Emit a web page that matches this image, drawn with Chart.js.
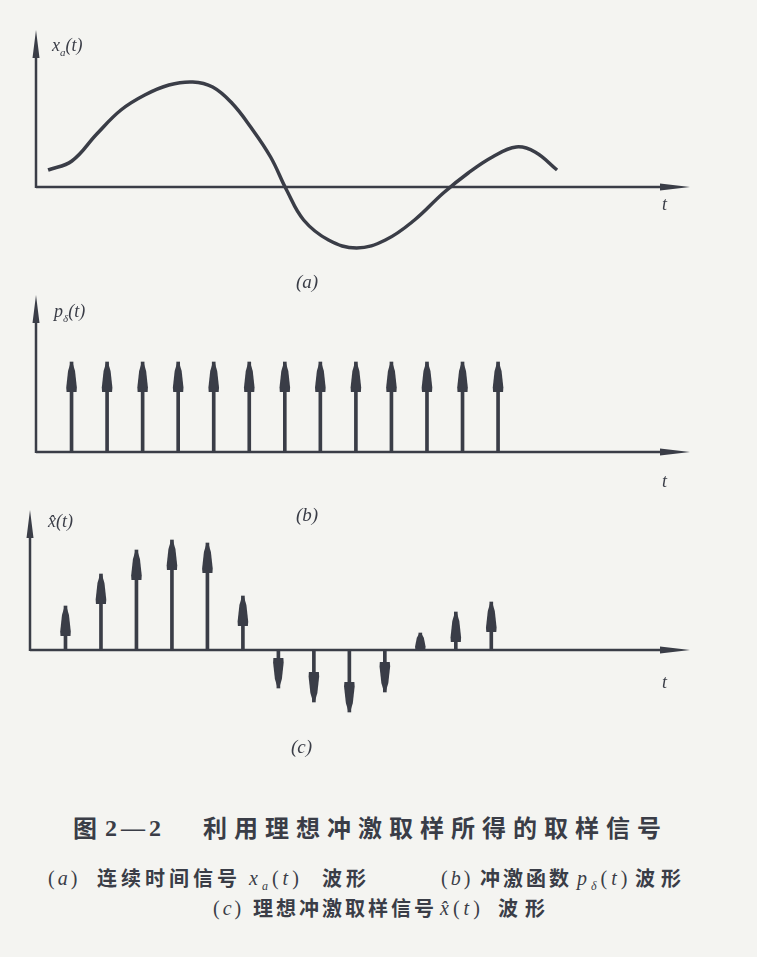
<!DOCTYPE html>
<html>
<head>
<meta charset="utf-8">
<script src="https://cdn.jsdelivr.net/npm/chart.js@4.4.1/dist/chart.umd.min.js"></script>
<style>
  body { margin: 0; background: #f4f4f1; width: 757px; height: 957px; position: relative; overflow: hidden; color: #3a3d47; font-family: "Liberation Serif", "DejaVu Serif", serif; }
  .box { position: absolute; left: 0; width: 757px; }
  .lab { position: absolute; font-style: italic; font-size: 18px; line-height: 1; white-space: nowrap; }
  .lab sub { font-size: 11px; }
  .c { position: absolute; white-space: nowrap; line-height: 1; }
  .cjk { font-family: "Noto Sans CJK SC", sans-serif; font-weight: bold; }
  .ser { font-family: "Liberation Serif", serif; }
  .ser sub { font-size: 12px; }
</style>
</head>
<body>
<div class="box" style="top:0;height:270px"><canvas id="chartA"></canvas></div>
<div class="box" style="top:285px;height:190px"><canvas id="chartB"></canvas></div>
<div class="box" style="top:500px;height:230px"><canvas id="chartC"></canvas></div>

<div class="lab" style="left:52px;top:36px"><i>x</i><sub>a</sub>(<i>t</i>)</div>
<div class="lab" style="left:662px;top:195px">t</div>
<div class="lab" style="left:296px;top:272px;font-size:19px">(a)</div>

<div class="lab" style="left:54px;top:302px"><i>p</i><sub>δ</sub>(<i>t</i>)</div>
<div class="lab" style="left:662px;top:472px">t</div>
<div class="lab" style="left:296px;top:505px;font-size:19px">(b)</div>

<div class="lab" style="left:48px;top:512px">x̂(t)</div>
<div class="lab" style="left:662px;top:673px">t</div>
<div class="lab" style="left:291px;top:737px;font-size:19px">(c)</div>

<!-- caption line 1 -->
<div class="c cjk" style="left:73px;top:815px;font-size:24px">图</div>
<div class="c ser" style="left:105px;top:816px;font-size:24px;font-weight:bold;letter-spacing:4px">2—2</div>
<div class="c cjk" style="left:203px;top:815px;font-size:24px;letter-spacing:7px">利用理想冲激取样所得的取样信号</div>
<!-- caption line 2 -->
<div class="c ser" style="left:48px;top:868px;font-size:20px;letter-spacing:3px">(<i>a</i>)</div>
<div class="c cjk" style="left:97px;top:868px;font-size:20px;letter-spacing:4px">连续时间信号</div>
<div class="c ser" style="left:249px;top:868px;font-size:20px;letter-spacing:4px"><i>x<sub>a</sub></i>(<i>t</i>)</div>
<div class="c cjk" style="left:322px;top:868px;font-size:20px;letter-spacing:4px">波形</div>
<div class="c ser" style="left:441px;top:868px;font-size:20px;letter-spacing:3px">(<i>b</i>)</div>
<div class="c cjk" style="left:480px;top:868px;font-size:20px;letter-spacing:3px">冲激函数</div>
<div class="c ser" style="left:577px;top:868px;font-size:20px;letter-spacing:4px"><i>p<sub>δ</sub></i>(<i>t</i>)</div>
<div class="c cjk" style="left:635px;top:868px;font-size:20px;letter-spacing:6px">波形</div>
<!-- caption line 3 -->
<div class="c ser" style="left:213px;top:898px;font-size:20px;letter-spacing:3px">(<i>c</i>)</div>
<div class="c cjk" style="left:253px;top:898px;font-size:20px;letter-spacing:3px">理想冲激取样信号</div>
<div class="c ser" style="left:440px;top:898px;font-size:20px;letter-spacing:4px"><i>x̂</i>(<i>t</i>)</div>
<div class="c cjk" style="left:498px;top:898px;font-size:20px;letter-spacing:7px">波形</div>

<script>
// (a) continuous signal, t in sampling periods
const tA = [0.34, 1.01, 1.71, 2.39, 3.06, 3.74, 4.41, 4.97, 5.51, 6.04, 6.60, 7.05, 7.53, 8.23, 9.02, 9.83, 10.65, 11.46, 12.16, 12.84, 13.51, 14.04, 14.66];
const xA = [1.7, 2.6, 5.3, 7.7, 9.2, 10.2, 10.5, 10.0, 8.4, 6.0, 3.0, -0.3, -3.3, -5.3, -6.1, -5.3, -3.3, -0.6, 1.4, 3.0, 4.0, 3.5, 1.7];

// (b) impulse train
const tB = [1, 2, 3, 4, 5, 6, 7, 8, 9, 10, 11, 12, 13];
const pB = [9, 9, 9, 9, 9, 9, 9, 9, 9, 9, 9, 9, 9];

// (c) sampled signal
const tC = [1, 2, 3, 4, 5, 6, 7, 8, 9, 10, 11, 12, 13];
const xC = [4.4, 7.6, 10.0, 11.0, 10.7, 5.4, -3.8, -5.2, -6.2, -4.2, 1.7, 3.8, 4.8];

const ink = '#3a3d47';

const axisArrows = {
  id: 'axisArrows',
  beforeDatasetsDraw(chart) {
    const { ctx, chartArea: a, scales: { x, y } } = chart;
    const x0 = x.getPixelForValue(0), y0 = y.getPixelForValue(0);
    ctx.save();
    ctx.strokeStyle = ink; ctx.fillStyle = ink; ctx.lineWidth = 2.5;
    ctx.beginPath();
    ctx.moveTo(x0, y0); ctx.lineTo(a.right - 20, y0);
    ctx.moveTo(x0, y0 + 1); ctx.lineTo(x0, a.top + 20);
    ctx.stroke();
    // right arrow
    ctx.beginPath();
    ctx.moveTo(a.right, y0); ctx.lineTo(a.right - 30, y0 - 3.5); ctx.lineTo(a.right - 30, y0 + 3.5);
    ctx.closePath(); ctx.fill();
    // up arrow
    ctx.beginPath();
    ctx.moveTo(x0, a.top); ctx.lineTo(x0 - 3.5, a.top + 28); ctx.lineTo(x0 + 3.5, a.top + 28);
    ctx.closePath(); ctx.fill();
    ctx.restore();
  }
};

// arrow heads on top of the impulse stems
const heads = {
  id: 'heads',
  afterDatasetsDraw(chart) {
    const ctx = chart.ctx;
    ctx.save();
    ctx.fillStyle = ink;
    chart.getDatasetMeta(0).data.forEach(bar => {
      const tip = bar.y, base = bar.base;
      const d = tip < base ? 1 : -1;
      const len = Math.min(30, Math.abs(base - tip) * 0.95);
      ctx.beginPath();
      ctx.moveTo(bar.x - 0.8, tip);
      ctx.lineTo(bar.x + 0.8, tip);
      ctx.lineTo(bar.x + 3.5, tip + d * len * 0.3);
      ctx.lineTo(bar.x + 5.3, tip + d * len * 0.85);
      ctx.lineTo(bar.x + 5, tip + d * len);
      ctx.lineTo(bar.x - 5, tip + d * len);
      ctx.lineTo(bar.x - 5.3, tip + d * len * 0.85);
      ctx.lineTo(bar.x - 3.5, tip + d * len * 0.3);
      ctx.closePath();
      ctx.fill();
    });
    ctx.restore();
  }
};

function baseScales(xMax, yMin, yMax) {
  return {
    x: { type: 'linear', min: 0, max: xMax, offset: false, display: false },
    y: { type: 'linear', min: yMin, max: yMax, display: false }
  };
}

const common = {
  responsive: true,
  maintainAspectRatio: false,
  animation: false,
  plugins: { legend: { display: false }, tooltip: { enabled: false } }
};

new Chart(document.getElementById('chartA'), {
  type: 'line',
  data: {
    datasets: [{
      data: tA.map((t, i) => ({ x: t, y: xA[i] })),
      borderColor: ink,
      borderWidth: 3.5,
      pointRadius: 0,
      tension: 0.4,
      clip: false
    }]
  },
  options: Object.assign({}, common, {
    layout: { padding: { left: 36, right: 67, top: 30, bottom: 13 } },
    scales: baseScales(18.4, -7, 15.7)
  }),
  plugins: [axisArrows]
});

function impulseChart(id, ts, vs, pad, xMax, yMin, yMax) {
  new Chart(document.getElementById(id), {
    type: 'bar',
    data: {
      datasets: [{
        data: ts.map((t, i) => ({ x: t, y: vs[i] })),
        backgroundColor: ink,
        barThickness: 3
      }]
    },
    options: Object.assign({}, common, {
      layout: { padding: pad },
      scales: baseScales(xMax, yMin, yMax)
    }),
    plugins: [axisArrows, heads]
  });
}

impulseChart('chartB', tB, pB, { left: 36, right: 67, top: 10, bottom: 18 }, 18.4, -0.5, 15.7);
impulseChart('chartC', tC, xC, { left: 30, right: 67, top: 10, bottom: 10 }, 18.6, -7, 14);
</script>
</body>
</html>
